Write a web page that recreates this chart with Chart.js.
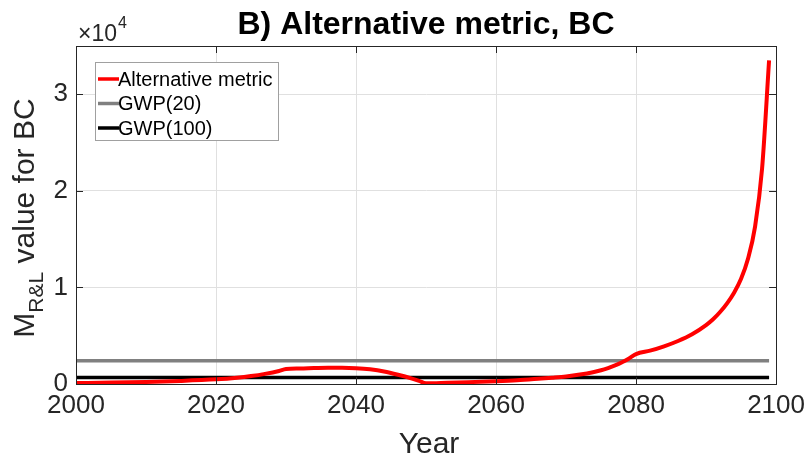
<!DOCTYPE html>
<html>
<head>
<meta charset="utf-8">
<script src="https://cdn.jsdelivr.net/npm/chart.js@4.4.0/dist/chart.umd.min.js"></script>
<style>
  html, body { margin: 0; padding: 0; background: #fff; }
  #wrap { width: 811px; height: 458px; }
</style>
</head>
<body>
<div id="wrap"><canvas id="chart" width="811" height="458"></canvas></div>
<script>
// data (values in plain units, axis shows x10^4)
const years = [2000, 2005, 2010, 2015, 2020, 2023, 2025, 2027, 2029, 2030,
  2032, 2034, 2036, 2038, 2040, 2042, 2044, 2046, 2048, 2049,
  2050, 2053, 2056, 2060, 2063, 2066, 2068, 2070, 2072, 2074,
  2075, 2076, 2077, 2078, 2079, 2080, 2082, 2084, 2086, 2088,
  2090, 2091, 2092, 2093, 2094, 2095, 2096, 2097, 2098, 2099];
const altMetric = [100, 150, 220, 320, 480, 650, 820, 1050, 1350, 1550,
  1600, 1650, 1690, 1690, 1640, 1520, 1300, 960, 560, 330,
  80, 130, 190, 290, 390, 540, 650, 780, 980, 1250,
  1420, 1650, 1920, 2250, 2650, 3100, 3450, 3900, 4450, 5150,
  6100, 6700, 7450, 8350, 9450, 10900, 13000, 16300, 22300, 33500];
const gwp20Value = 2420;
const gwp100Value = 680;
const lineYears = [2000, 2099];
const xTickValues = [2000, 2020, 2040, 2060, 2080, 2100];
const yTickValues = [0, 10000, 20000, 30000];

const seriesNames = ['Alternative metric', 'GWP(20)', 'GWP(100)'];
const seriesColors = ['#ff0000', '#808080', '#000000'];

const FONT = '"Liberation Sans", Arial, Helvetica, sans-serif';
const AXIS_COLOR = '#262626';

function toPoints(xs, ys) {
  return xs.map((x, i) => ({ x, y: ys[i] }));
}

const matlabAxes = {
  id: 'matlabAxes',
  afterDraw(chart) {
    const { ctx, chartArea: a, scales } = chart;
    const x = scales.x, y = scales.y;
    ctx.save();

    // box + inward ticks
    ctx.strokeStyle = AXIS_COLOR;
    ctx.lineWidth = 1;
    ctx.strokeRect(Math.round(a.left) + 0.5, Math.round(a.top) + 0.5,
      Math.round(a.right - a.left), Math.round(a.bottom - a.top));
    ctx.beginPath();
    xTickValues.forEach((v) => {
      const px = Math.round(x.getPixelForValue(v)) + 0.5;
      ctx.moveTo(px, a.bottom); ctx.lineTo(px, a.bottom - 7);
      ctx.moveTo(px, a.top); ctx.lineTo(px, a.top + 7);
    });
    yTickValues.forEach((v) => {
      const py = Math.round(y.getPixelForValue(v)) + 0.5;
      ctx.moveTo(a.left, py); ctx.lineTo(a.left + 7, py);
      ctx.moveTo(a.right, py); ctx.lineTo(a.right - 7, py);
    });
    ctx.stroke();

    // title
    ctx.fillStyle = '#000';
    ctx.textAlign = 'center';
    ctx.textBaseline = 'alphabetic';
    ctx.font = 'bold 32px ' + FONT;
    ctx.fillText('B) Alternative metric, BC', 426, 34);

    // exponent label
    ctx.fillStyle = AXIS_COLOR;
    ctx.textAlign = 'left';
    ctx.font = '23px ' + FONT;
    ctx.fillText('\u00d710', 78, 41);
    const w10 = ctx.measureText('\u00d710').width;
    ctx.font = '16px ' + FONT;
    ctx.fillText('4', 78 + w10 + 1, 28);

    // x label
    ctx.font = '30px ' + FONT;
    ctx.textAlign = 'center';
    ctx.fillText('Year', 429, 453);

    // y label with subscript
    ctx.save();
    ctx.translate(34, 218);
    ctx.rotate(-Math.PI / 2);
    const big = '30px ' + FONT, small = '21px ' + FONT;
    ctx.font = big; const wM = ctx.measureText('M').width;
    ctx.font = small; const wS = ctx.measureText('R&L').width;
    ctx.font = big; const wR = ctx.measureText(' value for BC').width;
    let cx = -(wM + wS + wR) / 2;
    ctx.textAlign = 'left';
    ctx.font = big; ctx.fillText('M', cx, 0); cx += wM;
    ctx.font = small; ctx.fillText('R&L', cx, 9); cx += wS;
    ctx.font = big; ctx.fillText(' value for BC', cx, 0);
    ctx.restore();

    // legend
    const lx = 95, ly = 62, lw = 183, lh = 78;
    ctx.fillStyle = '#fff';
    ctx.fillRect(lx, ly, lw, lh);
    ctx.strokeStyle = '#a0a0a0';
    ctx.lineWidth = 1;
    ctx.strokeRect(lx + 0.5, ly + 0.5, lw, lh);
    ctx.font = '20px ' + FONT;
    ctx.textAlign = 'left';
    ctx.textBaseline = 'middle';
    seriesNames.forEach((name, i) => {
      const ry = ly + 17 + i * 24.5;
      ctx.strokeStyle = seriesColors[i];
      ctx.lineWidth = 3.5;
      ctx.beginPath();
      ctx.moveTo(lx + 3, ry); ctx.lineTo(lx + 24, ry);
      ctx.stroke();
      ctx.fillStyle = '#000';
      ctx.fillText(name, lx + 23, ry + 1);
    });

    ctx.restore();
  }
};

new Chart(document.getElementById('chart'), {
  type: 'line',
  data: {
    datasets: [
      {
        label: seriesNames[0],
        data: toPoints(years, altMetric),
        borderColor: seriesColors[0],
        borderWidth: 4,
        pointRadius: 0,
        cubicInterpolationMode: 'monotone',
        order: 0,
      },
      {
        label: seriesNames[1],
        data: toPoints(lineYears, [gwp20Value, gwp20Value]),
        borderColor: seriesColors[1],
        borderWidth: 3.5,
        pointRadius: 0,
        order: 1,
      },
      {
        label: seriesNames[2],
        data: toPoints(lineYears, [gwp100Value, gwp100Value]),
        borderColor: seriesColors[2],
        borderWidth: 3.5,
        pointRadius: 0,
        order: 2,
      },
    ],
  },
  options: {
    responsive: false,
    animation: false,
    layout: { padding: { top: 46, right: 32, left: 0, bottom: 0 } },
    plugins: { legend: { display: false }, tooltip: { enabled: false } },
    scales: {
      x: {
        type: 'linear',
        min: 2000,
        max: 2100,
        afterBuildTicks: (s) => { s.ticks = xTickValues.map((v) => ({ value: v })); },
        afterFit: (s) => { s.height = 74; },
        ticks: {
          color: AXIS_COLOR,
          font: { family: FONT, size: 26 },
          padding: 6,
          maxRotation: 0,
          callback: (v) => String(v),
        },
        grid: { color: '#e0e0e0', drawTicks: false },
        border: { color: AXIS_COLOR },
      },
      y: {
        min: 0,
        max: 35000,
        afterBuildTicks: (s) => { s.ticks = yTickValues.map((v) => ({ value: v })); },
        afterFit: (s) => { s.width = 76; },
        ticks: {
          color: AXIS_COLOR,
          font: { family: FONT, size: 26 },
          padding: 8,
          callback: (v) => String(v / 10000),
        },
        grid: { color: '#e0e0e0', drawTicks: false },
        border: { color: AXIS_COLOR },
      },
    },
  },
  plugins: [matlabAxes],
});
</script>
</body>
</html>
